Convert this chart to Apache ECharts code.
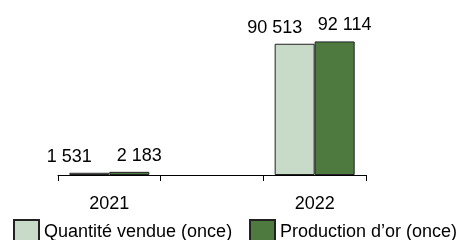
<!DOCTYPE html>
<html>
<head>
<meta charset="utf-8">
<script src="https://cdn.jsdelivr.net/npm/echarts@6/dist/echarts.min.js"></script>
<style>
  html, body { margin: 0; padding: 0; background: #fff; }
  #main { width: 458px; height: 240px; }
</style>
</head>
<body>
<div id="main"></div>
<script>
    // données
    var years = ['2021', '', '2022'];
    var quantiteVendue = [1531, null, 90513];
    var productionOr = [2183, null, 92114];
    var seriesNames = ['Quantité vendue (once)', 'Production d’or (once)'];

    var font = 'Liberation Sans, Arial, sans-serif';

    function fmt(p) {
        return String(p.value).replace(/\B(?=(\d{3})+(?!\d))/g, ' ');
    }

    // une légende par série, pour éviter le retour à la ligne
    function legende(name, left) {
        return {
            left: left,
            top: 219,
            padding: 0,
            icon: 'rect',
            itemWidth: 25,
            itemHeight: 24,
            textStyle: { fontSize: 18, color: '#000', fontFamily: font },
            data: [name]
        };
    }

    var myChart = echarts.init(document.getElementById('main'));
    var option = {
        animation: false,
        textStyle: { fontFamily: font, color: '#000' },
        grid: { left: 58, right: 92, top: 30, height: 145 },
        legend: [legende(seriesNames[0], 13), legende(seriesNames[1], 249)],
        xAxis: {
            type: 'category',
            data: years,
            axisLine: { lineStyle: { color: '#000', width: 1 } },
            axisTick: { show: true, interval: 0, length: 6, lineStyle: { color: '#000' } },
            axisLabel: { fontSize: 18, color: '#000', margin: 20, interval: 0, fontFamily: font }
        },
        yAxis: {
            type: 'value',
            min: 0,
            max: 100000,
            show: false
        },
        series: [{
            name: seriesNames[0],
            type: 'bar',
            data: quantiteVendue,
            barWidth: 40,
            barGap: 0,
            itemStyle: { color: '#c8dac8', borderColor: '#222', borderWidth: 1 },
            label: { show: true, position: 'top', distance: 7, offset: [-20, 0], fontSize: 18, color: '#000', fontFamily: font, formatter: fmt }
        }, {
            name: seriesNames[1],
            type: 'bar',
            data: productionOr,
            barWidth: 40,
            barGap: 0,
            itemStyle: { color: '#4e7a40', borderColor: '#222', borderWidth: 1 },
            label: { show: true, position: 'top', distance: 7, offset: [10, 0], fontSize: 18, color: '#000', fontFamily: font, formatter: fmt }
        }]
    };
    myChart.setOption(option);
</script>
</body>
</html>
